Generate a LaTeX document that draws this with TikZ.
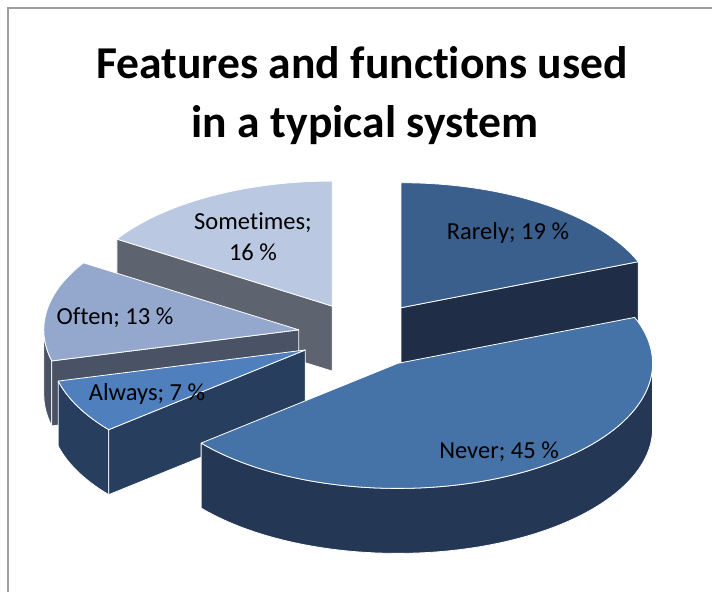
\documentclass[tikz,border=0pt]{standalone}
\usepackage{fontspec}
\setmainfont{Carlito}[Ligatures=NoCommon]
\definecolor{rarelyTop}{RGB}{58,95,140}
\definecolor{rarelySide}{RGB}{31,46,70}
\definecolor{neverTop}{RGB}{70,115,167}
\definecolor{neverSide}{RGB}{36,56,86}
\definecolor{alwaysTop}{RGB}{79,128,189}
\definecolor{alwaysSide}{RGB}{39,62,94}
\definecolor{oftenTop}{RGB}{148,168,206}
\definecolor{oftenSide}{RGB}{74,83,102}
\definecolor{someTop}{RGB}{187,200,225}
\definecolor{someSide}{RGB}{94,99,112}
\definecolor{frameGray}{RGB}{158,158,158}
% pie geometry: centre, ellipse radii, thickness, explode offsets
\def\cx{364}\def\cy{335}
\def\ra{255}\def\rb{125}\def\dep{65}
\def\ex{66}\def\ey{33}
\begin{document}
\begin{tikzpicture}[x=1pt,y=-1pt,
  face/.style={draw=white,line width=0.8pt,line join=round},
  lbl/.style={font=\fontsize{24.5}{29}\selectfont,anchor=base,inner sep=0pt},
  ttl/.style={font=\fontsize{45.6}{54}\selectfont\bfseries,anchor=base,inner sep=0pt},
  explode/.style={shift={({\cx+\ex*sin(#1)},{\cy-\ey*cos(#1)})}}]
\useasboundingbox (0,0) rectangle (712,592);
\fill[white] (0,0) rectangle (712,592);
\draw[frameGray,line width=1.6pt] (712,8) -- (8,8) -- (8,592);

\node[ttl] (t1) at (362,78) {Features and functions used};
\node[ttl] (t2) at (365,137) {in a typical system};

% Sometimes (302.4 -- 360)
\begin{scope}[explode=331.2]
  \path[face,fill=someSide] (0,0) -- ({\ra*sin(302.4)},{-\rb*cos(302.4)})
    -- ++(0,\dep) -- (0,\dep) -- cycle;
  \path[face,fill=someTop] (0,0) -- plot[domain=302.4:360,samples=40]
    ({\ra*sin(\x)},{-\rb*cos(\x)}) -- cycle;
\end{scope}

% Rarely (0 -- 68.4)
\begin{scope}[explode=34.2]
  \path[face,fill=rarelySide] (0,0) -- ({\ra*sin(68.4)},{-\rb*cos(68.4)})
    -- ++(0,\dep) -- (0,\dep) -- cycle;
  \path[face,fill=rarelyTop] (0,0) -- plot[domain=0:68.4,samples=40]
    ({\ra*sin(\x)},{-\rb*cos(\x)}) -- cycle;
\end{scope}

% Often (255.6 -- 302.4)
\begin{scope}[explode=279]
  \path[face,fill=oftenSide] plot[domain=255.6:270,samples=15]
    ({\ra*sin(\x)},{-\rb*cos(\x)}) -- plot[domain=270:255.6,samples=15]
    ({\ra*sin(\x)},{\dep-\rb*cos(\x)}) -- cycle;
  \path[face,fill=oftenSide] (0,0) -- ({\ra*sin(255.6)},{-\rb*cos(255.6)})
    -- ++(0,\dep) -- (0,\dep) -- cycle;
  \path[face,fill=oftenTop] (0,0) -- plot[domain=255.6:302.4,samples=40]
    ({\ra*sin(\x)},{-\rb*cos(\x)}) -- cycle;
\end{scope}

% Always (230.4 -- 255.6)
\begin{scope}[explode=243]
  \path[face,fill=alwaysSide] plot[domain=230.4:255.6,samples=20]
    ({\ra*sin(\x)},{-\rb*cos(\x)}) -- plot[domain=255.6:230.4,samples=20]
    ({\ra*sin(\x)},{\dep-\rb*cos(\x)}) -- cycle;
  \path[face,fill=alwaysSide] (0,0) -- ({\ra*sin(230.4)},{-\rb*cos(230.4)})
    -- ++(0,\dep) -- (0,\dep) -- cycle;
  \path[face,fill=alwaysTop] (0,0) -- plot[domain=230.4:255.6,samples=20]
    ({\ra*sin(\x)},{-\rb*cos(\x)}) -- cycle;
\end{scope}

% Never (68.4 -- 230.4)
\begin{scope}[explode=149.4]
  \path[face,fill=neverSide] plot[domain=90:230.4,samples=60]
    ({\ra*sin(\x)},{-\rb*cos(\x)}) -- plot[domain=230.4:90,samples=60]
    ({\ra*sin(\x)},{\dep-\rb*cos(\x)}) -- cycle;
  \path[face,fill=neverTop] (0,0) -- plot[domain=68.4:230.4,samples=80]
    ({\ra*sin(\x)},{-\rb*cos(\x)}) -- cycle;
\end{scope}

% data labels
\node[lbl] (lrarely) at (508,239) {Rarely; 19 \%};
\node[lbl] (lnever) at (499,458) {Never; 45 \%};
\node[lbl] (lalways) at (147,400) {Always; 7 \%};
\node[lbl] (loften) at (115,324) {Often; 13 \%};
\node[lbl] (lsome1) at (253,229) {Sometimes;};
\node[lbl] (lsome2) at (253,260) {16 \%};
\end{tikzpicture}
\end{document}
